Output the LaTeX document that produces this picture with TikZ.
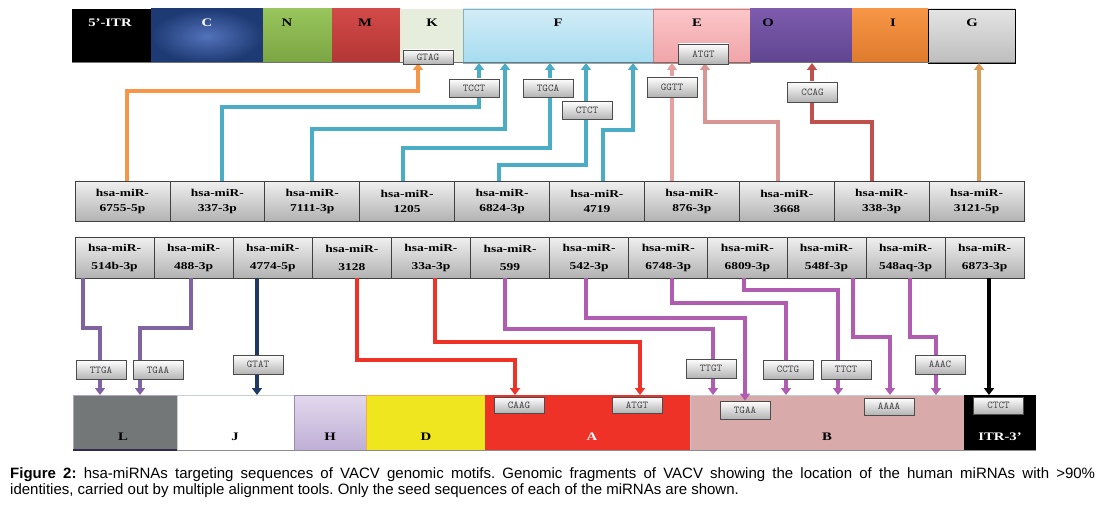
\documentclass[tikz,border=0pt]{standalone}
\usepackage{fontspec}
\setmainfont{Liberation Sans}
\newfontfamily\lblfont[FakeStretch=1.28]{Liberation Serif}
\usetikzlibrary{arrows.meta}
\definecolor{cOrange}{HTML}{F79646}
\definecolor{cBlue}{HTML}{4BACC6}
\definecolor{cPink}{HTML}{E6A0A0}
\definecolor{cPinkB}{HTML}{D99594}
\definecolor{cDRed}{HTML}{C0504D}
\definecolor{cTan}{HTML}{D99C5A}
\definecolor{cPurple}{HTML}{8064A2}
\definecolor{cNavy}{HTML}{1F3864}
\definecolor{cRed}{HTML}{EE3228}
\definecolor{cMag}{HTML}{B05CB0}
\definecolor{cCin}{HTML}{5272BA}
\definecolor{cCout}{HTML}{1E3A74}
\definecolor{cNt}{HTML}{98C55C}\definecolor{cNb}{HTML}{7BA443}
\definecolor{cMt}{HTML}{D24A48}\definecolor{cMb}{HTML}{B23634}
\definecolor{cK}{HTML}{E6EDDC}
\definecolor{cFt}{HTML}{D2ECF7}\definecolor{cFb}{HTML}{A6DCF0}
\definecolor{cEt}{HTML}{FBC6C8}\definecolor{cEb}{HTML}{F0A4A8}
\definecolor{cOt}{HTML}{7D5BAE}\definecolor{cOb}{HTML}{5F4590}
\definecolor{cIt}{HTML}{F79646}\definecolor{cIb}{HTML}{DE7A2C}
\definecolor{cGt}{HTML}{E4E4E4}\definecolor{cGb}{HTML}{BDBDBD}
\definecolor{cHt}{HTML}{E2D8EC}\definecolor{cHb}{HTML}{BFAFD6}
\definecolor{cL}{HTML}{737778}
\definecolor{cD}{HTML}{F0E620}
\definecolor{cB}{HTML}{D8AAAA}
\definecolor{cLline}{HTML}{2E2A50}
\tikzset{
  seg/.style={anchor=north west, inner sep=0pt, outer sep=0pt, minimum height=54pt},
  barlab/.style={font=\lblfont\bfseries\fontsize{11.5}{12}\selectfont, inner sep=0pt},
  mirbox/.style={anchor=north west, draw=black!75, line width=0.8pt, top color=black!6, bottom color=black!30,
    inner sep=0pt, outer sep=0pt, align=center, font=\lblfont\bfseries\fontsize{10.5}{15}\selectfont},
  seqbox/.style={draw=black!70, line width=0.7pt, top color=white, bottom color=black!30,
    minimum width=50pt, minimum height=18pt, inner sep=0pt, font=\ttfamily\fontsize{10.5}{11}\selectfont, text=black!75},
  conn/.style={line width=3.1pt},
  tip/.style={-{Triangle[width=10pt,length=7pt]}},
}
\begin{document}
\begin{tikzpicture}[x=1pt,y=-1pt]
\useasboundingbox (0,0) rectangle (1102,508);
\fill[white] (0,0) rectangle (1102,508);
% ---------------- top bar ----------------
\node[seg, minimum width=79pt, fill=black] (ITR5) at (72,9) {};
\node[seg, minimum width=112pt, inner color=cCin, outer color=cCout] (C) at (151,9) {};
\node[seg, minimum width=69pt, top color=cNt, bottom color=cNb] (N) at (263,9) {};
\node[seg, minimum width=68pt, top color=cMt, bottom color=cMb] (M) at (332,9) {};
\node[seg, minimum width=63pt, fill=cK] (K) at (400,9) {};
\node[seg, minimum width=190pt, top color=cFt, bottom color=cFb, draw=cFb!80!black, line width=0.5pt] (F) at (463,9) {};
\node[seg, minimum width=97pt, top color=cEt, bottom color=cEb, draw=cEb!80!black, line width=0.5pt] (E) at (653,9) {};
\node[seg, minimum width=102pt, top color=cOt, bottom color=cOb] (O) at (750,9) {};
\node[seg, minimum width=76pt, top color=cIt, bottom color=cIb] (I) at (852,9) {};
\node[seg, minimum width=87pt, top color=cGt, bottom color=cGb, draw=black, line width=0.8pt] (G) at (928,9) {};
\draw[black!55, line width=1pt] (ITR5.south west) -- (G.south east);
\node[barlab, text=white] (tITR5) at (110,23) {5’-ITR};
\node[barlab, text=white] (tC) at (207,23) {C};
\node[barlab] (tN) at (287,23) {N};
\node[barlab] (tM) at (365,23) {M};
\node[barlab] (tK) at (432,23) {K};
\node[barlab] (tF) at (558,23) {F};
\node[barlab] (tE) at (697,23) {E};
\node[barlab] (tO) at (768,23) {O};
\node[barlab] (tI) at (893,23) {I};
\node[barlab] (tG) at (972,23) {G};
% ---------------- bottom bar ----------------
\node[seg, minimum width=104pt, minimum height=55pt, fill=cL, draw=cPurple!60, line width=0.5pt] (L) at (73,395) {};
\node[seg, minimum width=117pt, minimum height=55pt, fill=white, draw=cyan!20!black!25, line width=0.5pt] (J) at (177,395) {};
\node[seg, minimum width=72pt, minimum height=55pt, top color=cHt, bottom color=cHb, draw=cHb!80!black, line width=0.5pt] (H) at (294,395) {};
\node[seg, minimum width=119pt, minimum height=55pt, fill=cD, draw=orange!70, line width=0.5pt] (D) at (366,395) {};
\node[seg, minimum width=205pt, minimum height=55pt, fill=cRed] (A) at (485,395) {};
\node[seg, minimum width=274pt, minimum height=55pt, fill=cB, draw=cyan!40!black!30, line width=0.5pt] (B) at (690,395) {};
\node[seg, minimum width=72pt, minimum height=55pt, fill=black] (ITR3) at (964,395) {};
\draw[black!45, line width=1pt] (L.south west) -- (ITR3.south east);
\draw[cLline, line width=1.5pt] (L.south west) -- (L.south east);
\node[barlab] (tL) at (123,437) {L};
\node[barlab] (tJ) at (235,437) {J};
\node[barlab] (tH) at (330,437) {H};
\node[barlab] (tD) at (426,437) {D};
\node[barlab, text=white] (tA) at (592,437) {A};
\node[barlab] (tB) at (827,437) {B};
\node[barlab, text=white] (tITR3) at (1000,437) {ITR-3’};
% ---------------- miRNA rows ----------------
\foreach \t [count=\i] in {6755-5p,337-3p,7111-3p,1205,6824-3p,4719,876-3p,3668,338-3p,3121-5p}{
  \node[mirbox, minimum width=94.9pt, minimum height=40pt] (u\i) at ({75+94.9*(\i-1)},181) {hsa-miR-\\\t};
}
\foreach \t [count=\i] in {514b-3p,488-3p,4774-5p,3128,33a-3p,599,542-3p,6748-3p,6809-3p,548f-3p,548aq-3p,6873-3p}{
  \node[mirbox, minimum width=79.1pt, minimum height=41pt, font=\lblfont\bfseries\fontsize{10.5}{18}\selectfont] (d\i) at ({75+79.1*(\i-1)},237) {hsa-miR-\\\t};
}
% ---------------- upper connectors ----------------
\draw[conn, cOrange, tip] (u1.north -| 127,0) |- (418,91) -- (K.south -| 418,0);
\draw[conn, cBlue, tip] (u2.north -| 222,0) |- (479,107) -- (F.south -| 479,0);
\draw[conn, cBlue, tip] (u3.north -| 312,0) |- (505,129) -- (F.south -| 505,0);
\draw[conn, cBlue, tip] (u4.north -| 403,0) |- (550,148) -- (F.south -| 550,0);
\draw[conn, cBlue, tip] (u5.north -| 499,0) |- (586,165) -- (F.south -| 586,0);
\draw[conn, cBlue, tip] (u6.north -| 603,0) |- (633,130) -- (F.south -| 633,0);
\draw[conn, cPink, tip] (u7.north -| 672,0) -- (E.south -| 672,0);
\draw[conn, cPinkB, tip] (u8.north -| 778,0) |- (705,122) -- (E.south -| 705,0);
\draw[conn, cDRed, tip] (u9.north -| 872,0) |- (812,122) -- (O.south -| 812,0);
\draw[conn, cTan, tip] (u10.north -| 979,0) -- (G.south -| 979,0);
% ---------------- lower connectors ----------------
\draw[conn, cPurple, tip] (d1.south -| 83,0) |- (100,328) -- (L.north -| 100,0);
\draw[conn, cPurple, tip] (d2.south -| 191,0) |- (140,328) -- (L.north -| 140,0);
\draw[conn, cNavy, tip] (d3.south -| 257,0) -- (J.north -| 257,0);
\draw[conn, cRed, tip] (d4.south -| 357,0) |- (515,360) -- (A.north -| 515,0);
\draw[conn, cRed, tip] (d5.south -| 435,0) |- (640,342) -- (A.north -| 640,0);
\draw[conn, cMag, tip] (d6.south -| 505,0) |- (713,329) -- (B.north -| 713,0);
\node[seqbox] (bTGAA) at (745,410) {TGAA};
\draw[conn, cMag, tip] (d7.south -| 586,0) |- (745,318) -- (bTGAA.north);
\draw[conn, cMag, tip] (d8.south -| 672,0) |- (786,303) -- (B.north -| 786,0);
\draw[conn, cMag, tip] (d9.south -| 744,0) |- (838,290) -- (B.north -| 838,0);
\draw[conn, cMag, tip] (d10.south -| 853,0) |- (890,337) -- (B.north -| 890,0);
\draw[conn, cMag, tip] (d11.south -| 910,0) |- (936,337) -- (B.north -| 936,0);
\draw[conn, black, tip] (d12.south -| 989,0) -- (ITR3.north -| 989,0);
% ---------------- seed boxes ----------------
\node[seqbox, minimum height=14pt] (sGTAG) at (428,57) {GTAG};
\node[seqbox, minimum height=20pt] (sATGTe) at (703.5,54) {ATGT};
\node[seqbox] (sTCCT) at (474,88) {TCCT};
\node[seqbox] (sTGCA) at (548,88) {TGCA};
\node[seqbox] (sCTCT) at (587,110.5) {CTCT};
\node[seqbox, minimum height=20pt] (sGGTT) at (672,87) {GGTT};
\node[seqbox, minimum height=20pt] (sCCAG) at (812.5,92) {CCAG};
\node[seqbox, minimum height=19pt] (sTTGA) at (101,370) {TTGA};
\node[seqbox, minimum height=19pt] (sTGAA) at (158,370) {TGAA};
\node[seqbox, minimum height=19pt] (sGTAT) at (258,364.5) {GTAT};
\node[seqbox, minimum height=19pt] (sTTGT) at (711,368.5) {TTGT};
\node[seqbox, minimum height=19pt] (sCCTG) at (788,369.5) {CCTG};
\node[seqbox, minimum height=19pt] (sTTCT) at (846,369.5) {TTCT};
\node[seqbox, minimum height=19pt] (sAAAC) at (940,364.5) {AAAC};
\node[seqbox, minimum height=16pt] (sCAAG) at (519,405) {CAAG};
\node[seqbox, minimum height=16pt] (sATGTa) at (637,405) {ATGT};
\node[seqbox, minimum height=17pt] (sAAAA) at (889,406.5) {AAAA};
\node[seqbox, minimum height=17pt] (sCTCTi) at (998.5,405.5) {CTCT};
% ---------------- caption ----------------
\node[anchor=north west, inner sep=0pt, text width=1085pt, align=justify,
  font=\fontsize{15}{16}\selectfont\frenchspacing] (cap) at (10,467)
  {\textbf{Figure 2:} hsa-miRNAs targeting sequences of VACV genomic motifs. Genomic fragments of VACV showing the location of the human miRNAs with >90\%\linebreak identities, carried out by multiple alignment tools. Only the seed sequences of each of the miRNAs are shown.};
\end{tikzpicture}
\end{document}
